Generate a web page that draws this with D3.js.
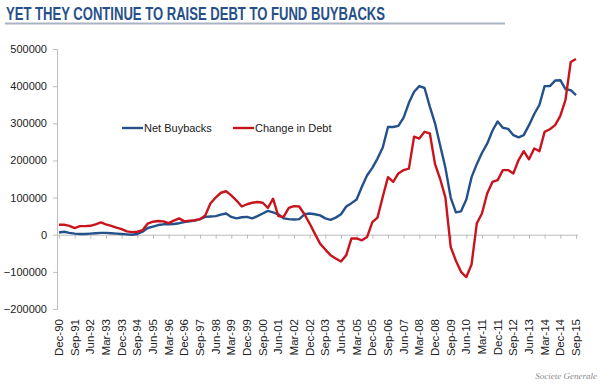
<!DOCTYPE html>
<html><head><meta charset="utf-8">
<script src="https://cdn.jsdelivr.net/npm/d3@7"></script>
<style>body{margin:0;background:#fff}svg{display:block}</style>
</head><body>
<script>
// Quarterly observations, Dec-90 .. Sep-15
const startDate = new Date(1990, 11, 1);
const netBuybacks = [6000,8000,5000,3000,2000,2000,3000,4000,5000,5000,
 4000,3000,2000,1000,0,2000,8000,18000,22000,26000,
 28000,28000,29000,31000,34000,36000,38000,42000,48000,49000,
 50000,54000,57000,48000,44000,47000,48000,44000,50000,57000,
 64000,60000,55000,44000,42000,41000,42000,55000,57000,55000,
 52000,44000,40000,46000,55000,76000,85000,95000,129000,160000,
 180000,205000,235000,290000,290000,293000,315000,355000,385000,400000,
 395000,345000,300000,240000,180000,100000,60000,63000,95000,155000,
 190000,220000,245000,280000,305000,288000,285000,268000,262000,268000,
 295000,325000,350000,400000,400000,415000,416000,392000,389000,376000];
const changeInDebt = [27000,27000,24000,18000,23000,23000,24000,28000,33000,28000,
 24000,19000,15000,9000,7000,8000,12000,30000,35000,37000,
 36000,31000,38000,44000,36000,38000,39000,42000,52000,84000,
 100000,113000,117000,106000,92000,76000,82000,86000,88000,86000,
 72000,97000,50000,48000,72000,77000,76000,55000,30000,3000,
 -24000,-40000,-55000,-64000,-72000,-55000,-10000,-10000,-15000,-6000,
 34000,46000,102000,155000,142000,165000,174000,178000,264000,259000,
 277000,273000,190000,150000,100000,-33000,-70000,-100000,-114000,-80000,
 30000,57000,111000,142000,147000,174000,174000,165000,201000,225000,
 203000,232000,225000,277000,284000,295000,320000,363000,465000,473000];
const tickLabels = ["Dec-90","Sep-91","Jun-92","Mar-93","Dec-93","Sep-94","Jun-95","Mar-96","Dec-96","Sep-97",
 "Jun-98","Mar-99","Dec-99","Sep-00","Jun-01","Mar-02","Dec-02","Sep-03","Jun-04","Mar-05",
 "Dec-05","Sep-06","Jun-07","Mar-08","Dec-08","Sep-09","Jun-10","Mar-11","Dec-11","Sep-12",
 "Jun-13","Mar-14","Dec-14","Sep-15"];
const yTicks = [-200000,-100000,0,100000,200000,300000,400000,500000];
const seriesNames = ["Net Buybacks","Change in Debt"];
const title = "YET THEY CONTINUE TO RAISE DEBT TO FUND BUYBACKS";
const source = "Societe Generale";

const W = 610, H = 392;
const dates = netBuybacks.map((_, i) => d3.timeMonth.offset(startDate, 3 * i));
const tickDates = tickLabels.map((_, i) => d3.timeMonth.offset(startDate, 9 * i));

const svg = d3.select("body").append("svg").attr("width", W).attr("height", H)
  .style("font-family", "Liberation Sans, Arial, sans-serif");

const x = d3.scaleTime().domain([dates[0], dates[dates.length - 1]]).range([59, 576]);
const y = d3.scaleLinear().domain([-200000, 500000]).range([309, 49]);

// Title
svg.append("text").attr("x", 6).attr("y", 20)
  .attr("font-size", 17.5).attr("font-weight", "bold").attr("fill", "#27508a")
  .attr("textLength", 379).attr("lengthAdjust", "spacingAndGlyphs")
  .text(title);
svg.append("line").attr("x1", 5).attr("x2", 505).attr("y1", 23.5).attr("y2", 23.5)
  .attr("stroke", "#a9b4c2").attr("stroke-width", 2);

// Y axis
const yAxis = d3.axisLeft(y).tickValues(yTicks).tickFormat(d3.format("d")).tickSize(4).tickPadding(6);
const gy = svg.append("g").attr("transform", "translate(57,0)").call(yAxis);
gy.select(".domain").attr("stroke", "#bdbdbd");
gy.selectAll(".tick line").attr("stroke", "#bdbdbd");
gy.selectAll(".tick text").attr("font-size", 11).attr("fill", "#222")
  .attr("font-family", "Liberation Sans, Arial, sans-serif");

// X axis at zero
const xAxis = d3.axisBottom(x).tickValues(tickDates).tickFormat((d, i) => tickLabels[i]).tickSize(4).tickSizeOuter(0);
const gx = svg.append("g").attr("transform", `translate(0,${y(0)})`).call(xAxis);
gx.select(".domain").attr("stroke", "#bdbdbd").attr("d", `M57,0.5H578`);
gx.selectAll(".tick line").attr("stroke", "#bdbdbd");
gx.selectAll(".tick text").remove();

// X labels (rotated) below plot
const gl = svg.append("g");
tickDates.forEach((d, i) => {
  gl.append("text")
    .attr("transform", `translate(${x(d) + 4},319) rotate(-90)`)
    .attr("text-anchor", "end")
    .attr("font-size", 11.5).attr("fill", "#222")
    .text(tickLabels[i]);
});

// Lines
const line = d3.line().x((d, i) => x(dates[i])).y(d => y(d));
svg.append("path").datum(netBuybacks).attr("d", line)
  .attr("fill", "none").attr("stroke", "#24518a").attr("stroke-width", 2.4).attr("stroke-linejoin", "round");
svg.append("path").datum(changeInDebt).attr("d", line)
  .attr("fill", "none").attr("stroke", "#c8151d").attr("stroke-width", 2.4).attr("stroke-linejoin", "round");

// Legend
const legend = [{name: seriesNames[0], color: "#24518a", x: 122}, {name: seriesNames[1], color: "#c8151d", x: 233}];
legend.forEach(l => {
  svg.append("line").attr("x1", l.x).attr("x2", l.x + 21).attr("y1", 128).attr("y2", 128)
    .attr("stroke", l.color).attr("stroke-width", 2.4);
  svg.append("text").attr("x", l.x + 22).attr("y", 132).attr("font-size", 11).attr("fill", "#222").text(l.name);
});

// Source
svg.append("text").attr("x", 597).attr("y", 379).attr("text-anchor", "end")
  .attr("font-family", "Liberation Serif, serif").attr("font-style", "italic")
  .attr("font-size", 9).attr("fill", "#8a8a8a").text(source);
</script>
</body></html>
